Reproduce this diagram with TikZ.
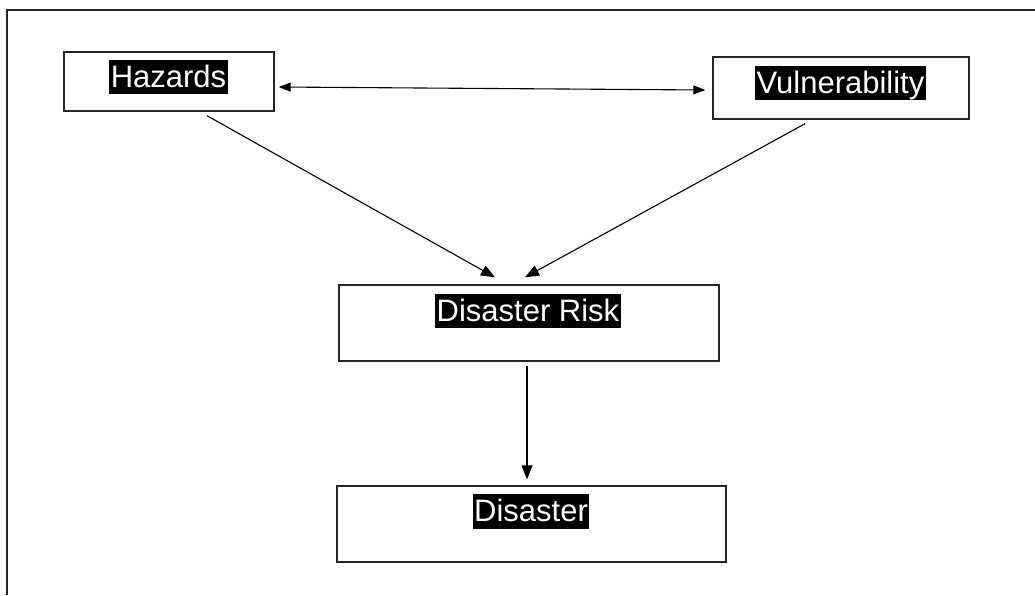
\documentclass[tikz,border=0pt]{standalone}
\usepackage{fontspec}
\setmainfont{Liberation Sans}
\usetikzlibrary{arrows.meta,calc}
\begin{document}
\begin{tikzpicture}[x=1pt,y=-1pt,
  box/.style={draw=black!85,line width=1.4pt,rectangle,inner sep=0pt},
  hl/.style={fill=black,text=white,inner sep=0pt,inner xsep=1.5pt,font=\fontsize{31}{31}\selectfont,text height=27.5pt,text depth=7pt},
  tip/.style={},
  conn/.style={line width=1.1pt,-{Triangle[length=14pt,width=11pt]}},
  dconn/.style={line width=1.1pt,{Triangle[length=12pt,width=9pt]}-{Triangle[length=12pt,width=9pt]}}]
\useasboundingbox (0,0) rectangle (1035,595);
\draw[line width=1.5pt,black!85] (1035,10) -- (7,10) -- (7,595);
% boxes
\node[box,minimum width=210pt,minimum height=59pt] (hz) at (169,81.5) {};
\node[box,minimum width=256pt,minimum height=62pt] (vu) at (841,88) {};
\node[box,minimum width=380pt,minimum height=76pt] (rk) at (529,323) {};
\node[box,minimum width=389pt,minimum height=76pt] (ds) at (531.5,524) {};
% labels
\node[hl] (hzt) at (168.5,77) {Hazards};
\node[hl] (vut) at (840.5,83) {Vulnerability};
\node[hl] (rkt) at (528,311) {Disaster Risk};
\node[hl] (dst) at (531,511.5) {Disaster};
% connectors
\draw[dconn] ($(hz.east)+(4,5.5)$) -- ($(vu.west)+(-7,2)$);
\draw[conn] ($(hz.south)+(38,4)$) -- ($(rk.north)+(-34,-7)$);
\draw[conn] ($(vu.south)+(-36,4)$) -- ($(rk.north)+(-4,-7)$);
\draw[conn] ($(rk.south)+(-2,4)$) -- ($(ds.north)+(-4.5,-6)$);
\end{tikzpicture}
\end{document}
